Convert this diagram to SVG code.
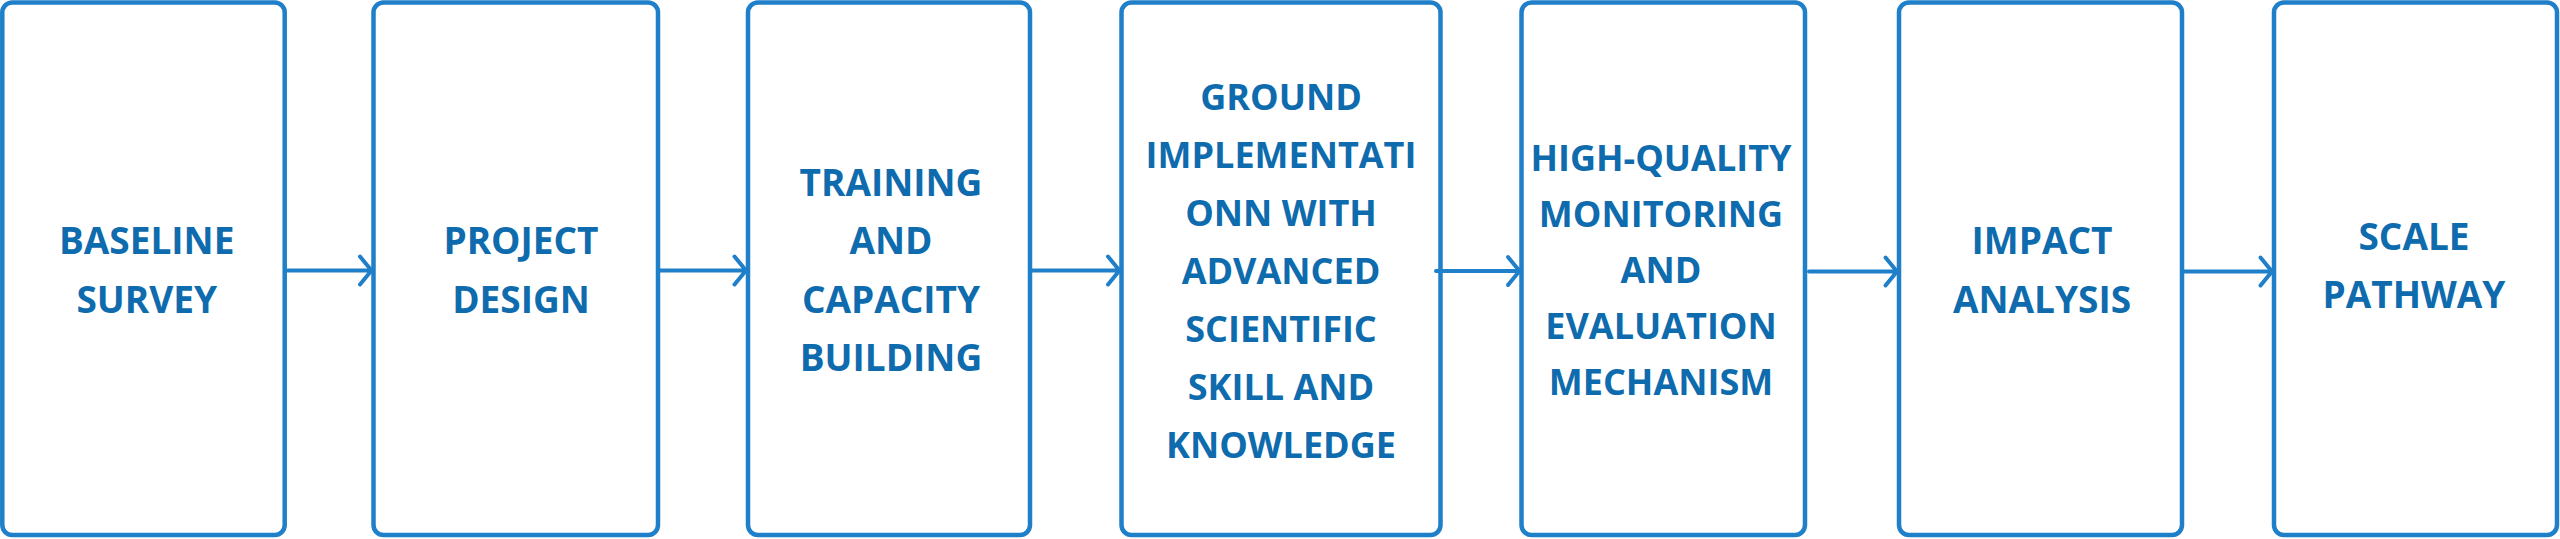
<svg xmlns="http://www.w3.org/2000/svg" width="2560" height="539" viewBox="0 0 2560 539">
<defs>
<style>
.box{fill:#FFFFFF;stroke:#1F7FC8;stroke-width:4.5}
.lbl{font-family:"Open Sans","Liberation Sans",Arial,sans-serif;font-weight:700;font-size:37px;fill:#0E6BAD;text-anchor:middle}
.sm{font-size:36px}
.con{fill:none;stroke:#1F7FC8;stroke-width:4;stroke-linecap:round;stroke-linejoin:round}
</style>
</defs>
<rect width="2560" height="539" fill="#FFFFFF"/>
<g id="node-baseline-survey">
<rect class="box" x="2.3" y="2.5" width="282.4" height="532.5" rx="10"/>
<text class="lbl" x="146.7" y="254">BASELINE</text>
<text class="lbl" x="146.7" y="312.7">SURVEY</text>
</g>
<g id="node-project-design">
<rect class="box" x="373.5" y="2.5" width="284.5" height="532.5" rx="10"/>
<text class="lbl" x="521" y="254">PROJECT</text>
<text class="lbl" x="521" y="312.7">DESIGN</text>
</g>
<g id="node-training">
<rect class="box" x="748" y="2.5" width="282" height="532.5" rx="10"/>
<text class="lbl" x="891" y="195.5">TRAINING</text>
<text class="lbl" x="891" y="254">AND</text>
<text class="lbl" x="891" y="312.7">CAPACITY</text>
<text class="lbl" x="891" y="371.2">BUILDING</text>
</g>
<g id="node-ground-implementation">
<rect class="box" x="1121.5" y="2.5" width="319" height="532.5" rx="10"/>
<text class="lbl sm" x="1281" y="110">GROUND</text>
<text class="lbl sm" x="1281" y="168.2">IMPLEMENTATI</text>
<text class="lbl sm" x="1281" y="226.2">ONN WITH</text>
<text class="lbl sm" x="1281" y="284.2">ADVANCED</text>
<text class="lbl sm" x="1281" y="342.2">SCIENTIFIC</text>
<text class="lbl sm" x="1281" y="400.4">SKILL AND</text>
<text class="lbl sm" x="1281" y="458.3">KNOWLEDGE</text>
</g>
<g id="node-monitoring">
<rect class="box" x="1521.5" y="2.5" width="283.5" height="532.5" rx="10"/>
<text class="lbl sm" x="1661" y="170.7">HIGH-QUALITY</text>
<text class="lbl sm" x="1661" y="226.8">MONITORING</text>
<text class="lbl sm" x="1661" y="282.9">AND</text>
<text class="lbl sm" x="1661" y="339">EVALUATION</text>
<text class="lbl sm" x="1661" y="395.1">MECHANISM</text>
</g>
<g id="node-impact-analysis">
<rect class="box" x="1899" y="2.5" width="283" height="532.5" rx="10"/>
<text class="lbl" x="2042" y="254.4">IMPACT</text>
<text class="lbl" x="2042" y="312.8">ANALYSIS</text>
</g>
<g id="node-scale-pathway">
<rect class="box" x="2274" y="2.5" width="283" height="532.5" rx="10"/>
<text class="lbl" x="2414" y="250">SCALE</text>
<text class="lbl" x="2414" y="308.4">PATHWAY</text>
</g>
<g id="connectors">
<path class="con" d="M286.5 270.5H371.5M360 256.5L371.5 270.5L360 284.5"/>
<path class="con" d="M660 270.5H746M734.5 256.5L746 270.5L734.5 284.5"/>
<path class="con" d="M1032 270.5H1119.5M1108 256.5L1119.5 270.5L1108 284.5"/>
<path class="con" d="M1436 271H1519.5M1508 257L1519.5 271L1508 285"/>
<path class="con" d="M1809 271.5H1897M1885.5 257.5L1897 271.5L1885.5 285.5"/>
<path class="con" d="M2184 271.5H2272M2260.5 257.5L2272 271.5L2260.5 285.5"/>
</g>
</svg>
